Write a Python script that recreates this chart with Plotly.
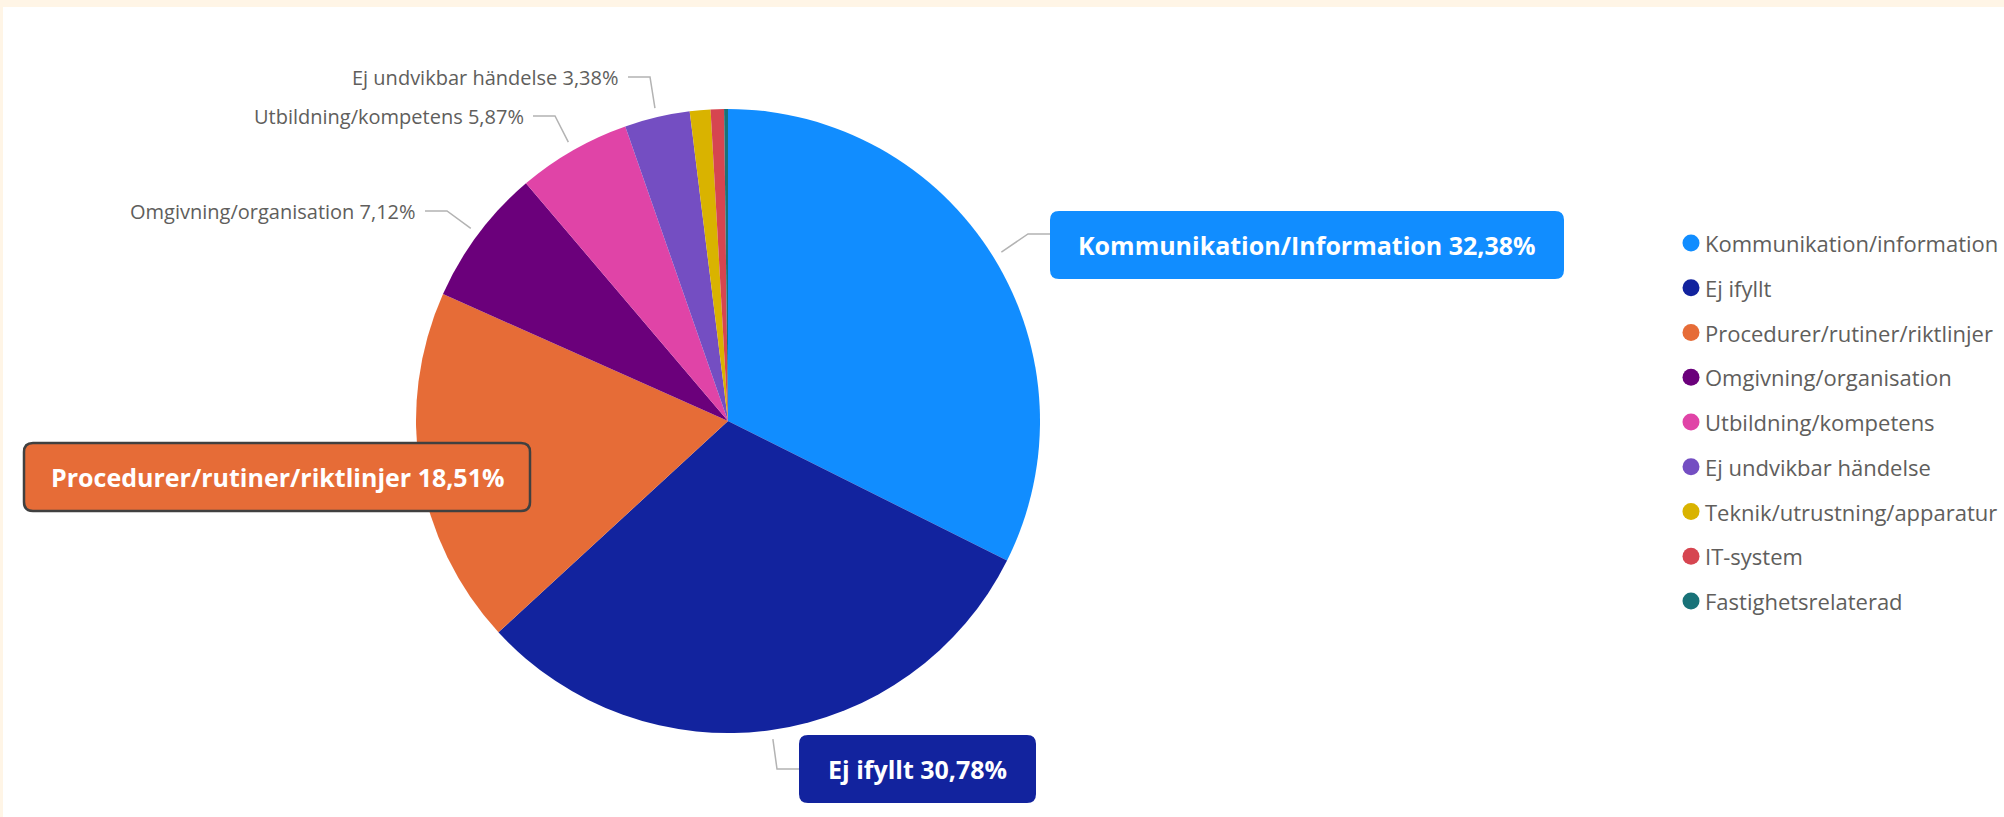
import math
import plotly.graph_objects as go

# ---- data ----
categories = [
    "Kommunikation/information",
    "Ej ifyllt",
    "Procedurer/rutiner/riktlinjer",
    "Omgivning/organisation",
    "Utbildning/kompetens",
    "Ej undvikbar händelse",
    "Teknik/utrustning/apparatur",
    "IT-system",
    "Fastighetsrelaterad",
]
label_names = [
    "Kommunikation/Information",
    "Ej ifyllt",
    "Procedurer/rutiner/riktlinjer",
    "Omgivning/organisation",
    "Utbildning/kompetens",
    "Ej undvikbar händelse",
    "Teknik/utrustning/apparatur",
    "IT-system",
    "Fastighetsrelaterad",
]
percentages = [32.38, 30.78, 18.51, 7.12, 5.87, 3.38, 1.07, 0.69, 0.20]
colors = ["#118DFF", "#12239E", "#E66C37", "#6B007B", "#E044A7",
          "#744EC2", "#D9B300", "#D64550", "#197278"]

# ---- layout constants (pixels) ----
W, H = 2004, 817
CX, CY, R = 728, 421, 312
FONT = "Open Sans"
GRAY = "#605E5C"
LINE = "#B3B3B3"


def px(x):
    return x / W


def py(y):
    return 1 - y / H


def fmt(v):
    return f"{v:.2f}".replace(".", ",")


fig = go.Figure()
fig.add_trace(go.Pie(
    labels=categories,
    values=percentages,
    sort=False,
    direction="clockwise",
    rotation=0,
    marker=dict(colors=colors, line=dict(width=0)),
    textinfo="none",
    hoverinfo="label+percent",
    showlegend=False,
    domain=dict(x=[px(CX - R), px(CX + R)], y=[py(CY + R), py(CY - R)]),
))

shapes = []
annotations = []

# background strips (cream frame)
shapes.append(dict(type="rect", xref="paper", yref="paper", x0=0, x1=1,
                   y0=py(7), y1=1, fillcolor="#FFF5E6", line=dict(width=0), layer="below"))
shapes.append(dict(type="rect", xref="paper", yref="paper", x0=0, x1=px(3),
                   y0=0, y1=1, fillcolor="#FFF5E6", line=dict(width=0), layer="below"))


def rounded_rect(x0, y0, x1, y1, r, fill, border=None, bw=0):
    rx, ry = r / W, r / H
    X0, X1 = px(x0), px(x1)
    Y0, Y1 = py(y1), py(y0)  # Y0 bottom, Y1 top
    path = (f"M {X0+rx},{Y1} L {X1-rx},{Y1} Q {X1},{Y1} {X1},{Y1-ry} "
            f"L {X1},{Y0+ry} Q {X1},{Y0} {X1-rx},{Y0} L {X0+rx},{Y0} "
            f"Q {X0},{Y0} {X0},{Y0+ry} L {X0},{Y1-ry} Q {X0},{Y1} {X0+rx},{Y1} Z")
    return dict(type="path", xref="paper", yref="paper", path=path,
                fillcolor=fill, line=dict(color=border or fill, width=bw if border else 0),
                layer="above")


# angles of slice midpoints (clockwise from 12 o'clock)
total = sum(percentages)
mids = []
acc = 0
for v in percentages:
    mids.append((acc + v / 2) / total * 2 * math.pi)
    acc += v


def edge_point(i, k=1.03):
    a = mids[i]
    return CX + k * R * math.sin(a), CY - k * R * math.cos(a)


label_cfg = {
    0: dict(style="box", elbow=(1028, 234), end=(1050, 234), box=(1050, 211, 1564, 279)),
    1: dict(style="box", elbow=(777, 769), end=(799, 769), box=(799, 735, 1036, 803)),
    2: dict(style="box", box=(24, 443, 530, 511), border="#404040"),
    3: dict(style="text", elbow=(447, 211), end=(425, 211), text=(418, 212)),
    4: dict(style="text", elbow=(555, 116), end=(533, 116), text=(526, 117)),
    5: dict(style="text", elbow=(650, 77), end=(628, 77), text=(621, 78)),
}

for i, cfg in label_cfg.items():
    txt = f"{label_names[i]} {fmt(percentages[i])}%"
    if "elbow" in cfg:
        sx, sy = edge_point(i)
        ex, ey = cfg["elbow"]
        tx, ty = cfg["end"]
        shapes.append(dict(type="path", xref="paper", yref="paper",
                           path=f"M {px(sx)},{py(sy)} L {px(ex)},{py(ey)} L {px(tx)},{py(ty)}",
                           line=dict(color=LINE, width=1.5), layer="above"))
    if cfg["style"] == "box":
        x0, y0, x1, y1 = cfg["box"]
        if "border" in cfg:
            shapes.append(rounded_rect(x0, y0, x1, y1, 9, colors[i], cfg["border"], 2.5))
        else:
            shapes.append(rounded_rect(x0, y0, x1, y1, 9, colors[i]))
        annotations.append(dict(xref="paper", yref="paper", x=px((x0 + x1) / 2),
                                y=py((y0 + y1) / 2), text=f"<b>{txt}</b>", showarrow=False,
                                xanchor="center", yanchor="middle",
                                font=dict(family=FONT, size=25, color="white")))
    else:
        x, y = cfg["text"]
        annotations.append(dict(xref="paper", yref="paper", x=px(x), y=py(y), text=txt,
                                showarrow=False, xanchor="right", yanchor="middle",
                                font=dict(family=FONT, size=20, color=GRAY)))

# legend (drawn manually with circle markers)
LX, LY0, LDY, LR = 1691, 243, 44.75, 8.5
for i, name in enumerate(categories):
    yc = LY0 + i * LDY
    shapes.append(dict(type="circle", xref="paper", yref="paper",
                       x0=px(LX - LR), x1=px(LX + LR), y0=py(yc + LR), y1=py(yc - LR),
                       fillcolor=colors[i], line=dict(width=0)))
    annotations.append(dict(xref="paper", yref="paper", x=px(1703), y=py(yc), text=name,
                            showarrow=False, xanchor="left", yanchor="middle",
                            font=dict(family=FONT, size=22, color=GRAY)))

fig.update_layout(
    width=W, height=H,
    margin=dict(l=0, r=0, t=0, b=0),
    paper_bgcolor="white",
    plot_bgcolor="white",
    shapes=shapes,
    annotations=annotations,
    showlegend=False,
)

fig.write_html("out.html", config={"displayModeBar": False},
               post_script="document.body.style.margin='0';document.body.style.overflow='hidden';")
